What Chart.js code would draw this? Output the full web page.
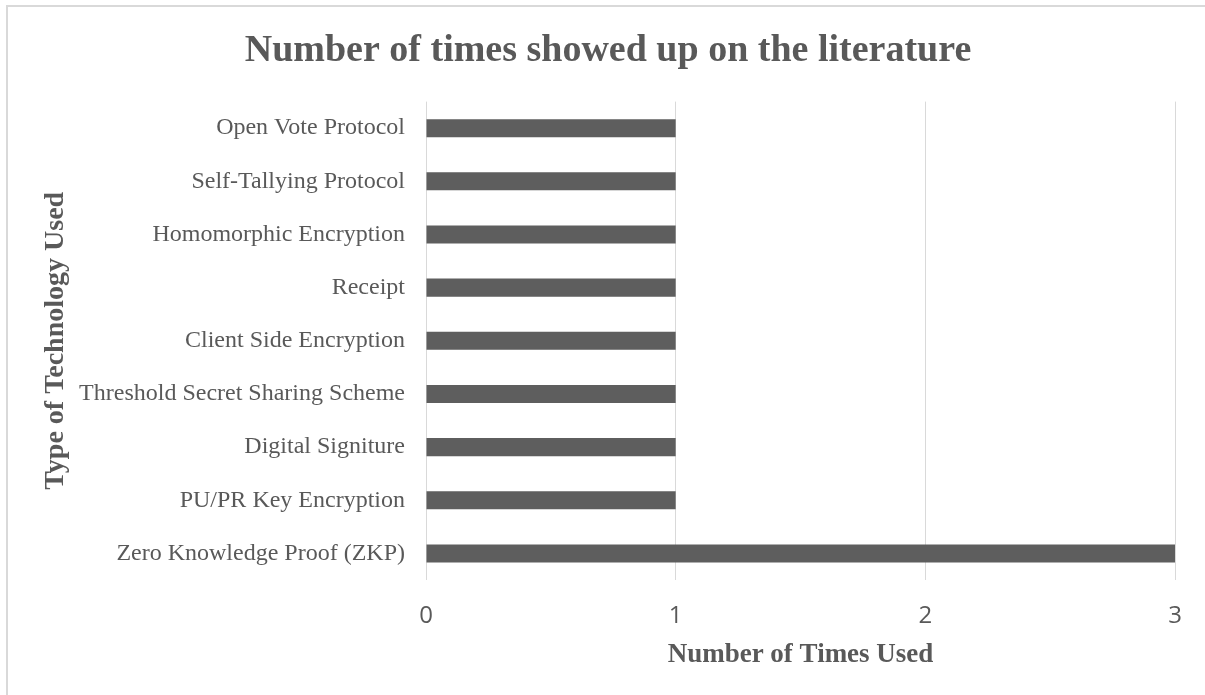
<!DOCTYPE html>
<html>
<head>
<meta charset="utf-8">
<script src="https://cdn.jsdelivr.net/npm/chart.js@4/dist/chart.umd.min.js"></script>
<style>
  html, body { margin: 0; padding: 0; background: #ffffff; overflow: hidden; }
  #frame { position: absolute; left: 6px; top: 5px; width: 1400px; height: 900px;
           border-left: 2px solid #d9d9d9; border-top: 2px solid #d9d9d9; z-index: 0; }
  #wrap { position: absolute; left: 0; top: 0; width: 1205px; height: 695px; z-index: 1; }
</style>
</head>
<body>
<div id="frame"></div>
<div id="wrap"><canvas id="c" width="1205" height="695"></canvas></div>
<script>
const categories = [
  "Open Vote Protocol",
  "Self-Tallying Protocol",
  "Homomorphic Encryption",
  "Receipt",
  "Client Side Encryption",
  "Threshold Secret Sharing Scheme",
  "Digital Signiture",
  "PU/PR Key Encryption",
  "Zero Knowledge Proof (ZKP)"
];
const timesUsed = [1, 1, 1, 1, 1, 1, 1, 1, 3];
const xTicks = [0, 1, 2, 3];

const chartTitle = "Number of times showed up on the literature";
const xTitle = "Number of Times Used";
const yTitle = "Type of Technology Used";

const textColor = "#595959";

new Chart(document.getElementById("c"), {
  type: "bar",
  data: {
    labels: categories,
    datasets: [{
      data: timesUsed,
      backgroundColor: "#5e5e5e",
      borderWidth: 0,
      categoryPercentage: 1.0,
      barPercentage: 0.34
    }]
  },
  options: {
    indexAxis: "y",
    responsive: false,
    animation: false,
    devicePixelRatio: 1,
    layout: { padding: { left: 41, right: 30, top: 0, bottom: 0 } },
    plugins: {
      legend: { display: false },
      tooltip: { enabled: false },
      title: {
        display: true,
        text: chartTitle,
        color: textColor,
        font: { family: "Liberation Serif", size: 38, weight: "bold" },
        padding: { top: 28, bottom: 28 }
      }
    },
    scales: {
      x: {
        min: xTicks[0],
        max: xTicks[xTicks.length - 1],
        afterBuildTicks: (scale) => { scale.ticks = xTicks.map(v => ({ value: v })); },
        afterFit: (scale) => { scale.height = 115; },
        ticks: {
          color: textColor,
          padding: 22,
          font: { family: "Open Sans", size: 24 }
        },
        grid: { display: true, color: "#d9d9d9", lineWidth: 1, drawTicks: false },
        border: { display: false },
        title: {
          display: true,
          text: xTitle,
          color: textColor,
          font: { family: "Liberation Serif", size: 27, weight: "bold" },
          padding: { top: 0, bottom: 24 }
        }
      },
      y: {
        afterFit: (scale) => { scale.width = 385; },
        ticks: {
          color: textColor,
          padding: 21,
          font: { family: "Liberation Serif", size: 24 }
        },
        grid: { display: false, drawTicks: false },
        border: { display: false },
        title: {
          display: true,
          text: yTitle,
          color: textColor,
          font: { family: "Liberation Serif", size: 28, weight: "bold" },
          padding: { top: -2, bottom: 0 }
        }
      }
    }
  }
});
</script>
</body>
</html>
